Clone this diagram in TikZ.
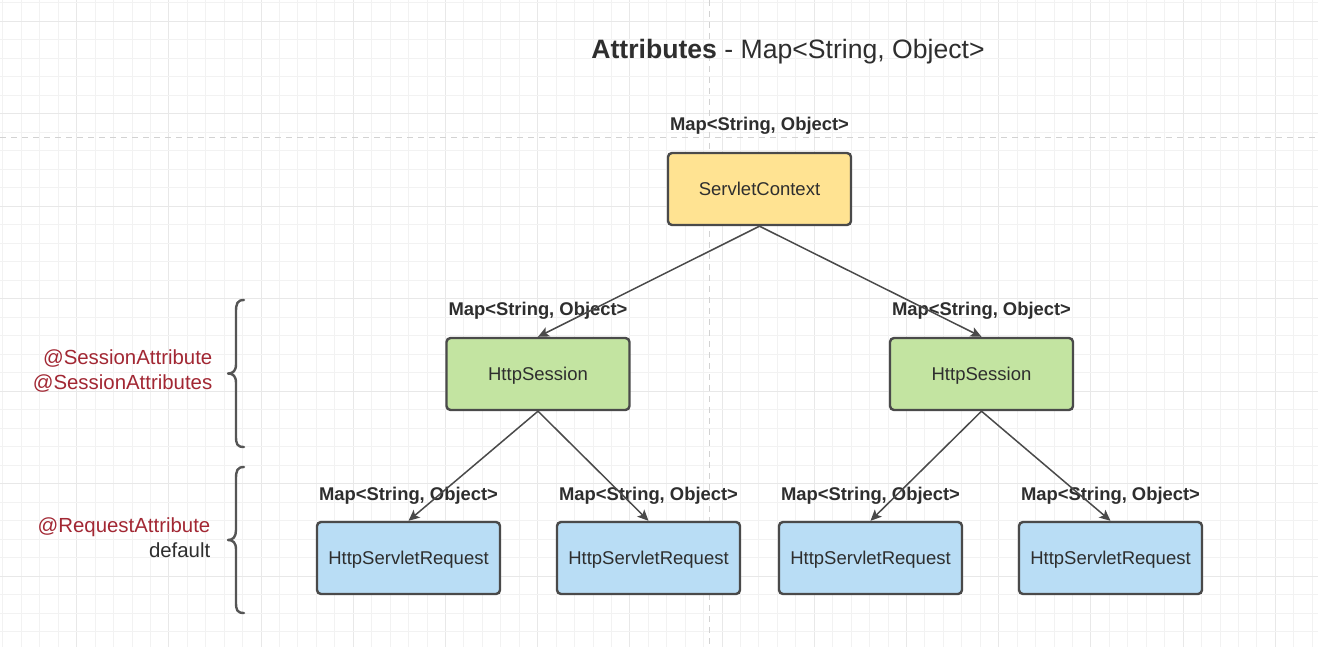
\documentclass[tikz,border=0pt]{standalone}
\usepackage{fontspec}
\setmainfont{Liberation Sans}
\usetikzlibrary{arrows.meta}
\definecolor{gridminor}{HTML}{F2F2F2}
\definecolor{gridmajor}{HTML}{E8E8E8}
\definecolor{guide}{HTML}{D2D2D2}
\definecolor{boxline}{HTML}{4A4A4A}
\definecolor{txt}{HTML}{2E2E2E}
\definecolor{yellowfill}{HTML}{FFE392}
\definecolor{greenfill}{HTML}{C3E4A1}
\definecolor{bluefill}{HTML}{B9DDF5}
\definecolor{annored}{HTML}{A22733}
\definecolor{bracecol}{HTML}{555555}
\begin{document}
\begin{tikzpicture}[x=1pt,y=-1pt,
  box/.style={draw=boxline, line width=2.4pt, rounded corners=4pt,
    minimum width=183pt, minimum height=72pt, inner sep=0pt, text=txt,
    text height=13.5pt, text depth=0.5pt,
    font=\fontsize{18.5}{22}\selectfont},
  ctxbox/.style={box, fill=yellowfill},
  sessbox/.style={box, fill=greenfill},
  reqbox/.style={box, fill=bluefill},
  maplabel/.style={inner sep=0pt, text=txt, font=\bfseries\fontsize{18.4}{22}\selectfont},
  conn/.style={draw=boxline, line width=1.5pt, -{Stealth[length=11pt,width=10pt,inset=2.5pt]}},
  annot/.style={inner sep=0pt, anchor=east, align=right, font=\fontsize{20.4}{25}\selectfont},
  bracestyle/.style={draw=bracecol, line width=2.4pt, line cap=round, line join=round}
]
\useasboundingbox (0,0) rectangle (1318,647);
\fill[white] (0,0) rectangle (1318,647);
% grid
\foreach \i in {0,...,71}{
  \pgfmathsetmacro{\gx}{2.8+18.44*\i}
  \pgfmathtruncatemacro{\gm}{mod(\i,5)}
  \ifnum\gm=4
    \draw[gridmajor, line width=0.8pt] (\gx,0) -- (\gx,647);
  \else
    \draw[gridminor, line width=0.7pt] (\gx,0) -- (\gx,647);
  \fi
}
\foreach \i in {0,...,35}{
  \pgfmathsetmacro{\gy}{2.5+18.5*\i}
  \pgfmathtruncatemacro{\gm}{mod(\i,5)}
  \ifnum\gm=1
    \draw[gridmajor, line width=0.8pt] (0,\gy) -- (1318,\gy);
  \else
    \draw[gridminor, line width=0.7pt] (0,\gy) -- (1318,\gy);
  \fi
}
% guides
\draw[guide, line width=1pt, dash pattern=on 6pt off 5pt] (0,138) -- (1318,138);
\draw[guide, line width=1pt, dash pattern=on 6pt off 5pt] (709,0) -- (709,647);

% title
\node[inner sep=0pt, text=txt, font=\fontsize{26.6}{30}\selectfont] (title) at (788,51.5)
  {\textbf{Attributes} - Map<String, Object>};

% boxes
\node[ctxbox] (ctx) at (759.5,189) {ServletContext};
\node[sessbox] (s1) at (538,374) {HttpSession};
\node[sessbox] (s2) at (981.5,374) {HttpSession};
\node[reqbox] (r1) at (408.5,558) {HttpServletRequest};
\node[reqbox] (r2) at (648.5,558) {HttpServletRequest};
\node[reqbox] (r3) at (870.5,558) {HttpServletRequest};
\node[reqbox] (r4) at (1110.5,558) {HttpServletRequest};

% map labels
\node[maplabel] (lctx) at (759.5,126) {Map<String, Object>};
\node[maplabel] (ls1) at (538,310.5) {Map<String, Object>};
\node[maplabel] (ls2) at (981.5,310.5) {Map<String, Object>};
\node[maplabel] (lr1) at (408.5,495.5) {Map<String, Object>};
\node[maplabel] (lr2) at (648.5,495.5) {Map<String, Object>};
\node[maplabel] (lr3) at (870.5,495.5) {Map<String, Object>};
\node[maplabel] (lr4) at (1110.5,495.5) {Map<String, Object>};

% connectors
\draw[conn] (ctx.south) -- (s1.north);
\draw[conn] (ctx.south) -- (s2.north);
\draw[conn] (s1.south) -- (r1.north);
\draw[conn] (s1.south) -- (r2.north);
\draw[conn] (s2.south) -- (r3.north);
\draw[conn] (s2.south) -- (r4.north);

% annotations
\node[annot, text=annored] (asess) at (212.5,371.5) {@SessionAttribute\\@SessionAttributes};
\node[annot] (areq) at (210.5,538) {\textcolor{annored}{@RequestAttribute}\\\textcolor{txt}{default}};

% braces
\draw[bracestyle] (244,300) .. controls (237,300) and (236,304) .. (236,312)
  -- (236,364) .. controls (236,371) and (233,373.5) .. (228,373.5)
  .. controls (233,373.5) and (236,376) .. (236,383)
  -- (236,436) .. controls (236,444) and (237,447) .. (244,447);
\draw[bracestyle] (244,467) .. controls (237,467) and (236,471) .. (236,479)
  -- (236,530) .. controls (236,537) and (233,540) .. (228,540)
  .. controls (233,540) and (236,542.5) .. (236,549.5)
  -- (236,602) .. controls (236,610) and (237,613) .. (244,613);
\end{tikzpicture}
\end{document}
